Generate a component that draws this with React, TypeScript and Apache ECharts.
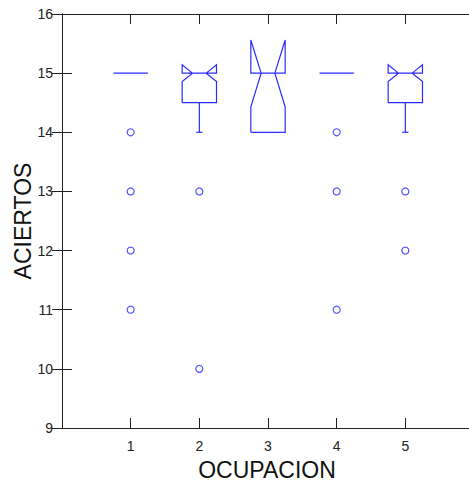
import React, { useEffect, useRef } from "react";
import * as echarts from "echarts";

const categories = [1, 2, 3, 4, 5];
const q1 = [15, 14.5, 14, 15, 14.5];
const medians = [15, 15, 15, 15, 15];
const q3 = [15, 15, 15, 15, 15];
const whiskerLow = [15, 14, 14, 15, 14];
const whiskerHigh = [15, 15, 15, 15, 15];
const notchLow = [15, 14.86, 14.43, 15, 14.86];
const notchHigh = [15, 15.14, 15.56, 15, 15.14];
const outliers: number[][] = [
  [1, 14], [1, 13], [1, 12], [1, 11],
  [2, 13], [2, 10],
  [4, 14], [4, 13], [4, 11],
  [5, 13], [5, 12],
];
const yTicks = [9, 10, 11, 12, 13, 14, 15, 16];
const xTickLabels = ["1", "2", "3", "4", "5"];

const BLUE = "#2b2bff";
const AXIS = "#222222";

export default function App() {
  const ref = useRef<HTMLDivElement>(null);
  useEffect(() => {
    if (!ref.current) return;
    const chart = echarts.init(ref.current, undefined, { renderer: "svg" });
    const boxData = categories.map((c, i) => [
      c, q1[i], medians[i], q3[i], whiskerLow[i], whiskerHigh[i], notchLow[i], notchHigh[i],
    ]);
    const W = 0.25;
    const NW = 0.1;
    const CAP = 0.045;
    const renderItem = (params: any, api: any) => {
      const x = api.value(0);
      const vq1 = api.value(1);
      const vmed = api.value(2);
      const vq3 = api.value(3);
      const wlo = api.value(4);
      const whi = api.value(5);
      const nlo = api.value(6);
      const nhi = api.value(7);
      const p = (a: number, b: number) => api.coord([a, b]);
      const style = { stroke: BLUE, lineWidth: 1.2, fill: "none" };
      const children: any[] = [];
      if (vq1 === vq3 && nlo === nhi) {
        const a = p(x - W, vmed), b = p(x + W, vmed);
        children.push({ type: "line", shape: { x1: a[0], y1: a[1], x2: b[0], y2: b[1] }, style });
      } else {
        const pts = [
          p(x - W, vq1), p(x - W, nlo), p(x - NW, vmed), p(x - W, nhi), p(x - W, vq3),
          p(x + W, vq3), p(x + W, nhi), p(x + NW, vmed), p(x + W, nlo), p(x + W, vq1),
          p(x - W, vq1),
        ];
        children.push({ type: "polyline", shape: { points: pts }, style });
      }
      if (wlo < vq1) {
        const a = p(x, vq1), b = p(x, wlo);
        children.push({ type: "line", shape: { x1: a[0], y1: a[1], x2: b[0], y2: b[1] }, style });
        const c1 = p(x - CAP, wlo), c2 = p(x + CAP, wlo);
        children.push({ type: "line", shape: { x1: c1[0], y1: c1[1], x2: c2[0], y2: c2[1] }, style });
      }
      if (whi > vq3) {
        const a = p(x, vq3), b = p(x, whi);
        children.push({ type: "line", shape: { x1: a[0], y1: a[1], x2: b[0], y2: b[1] }, style });
        const c1 = p(x - CAP, whi), c2 = p(x + CAP, whi);
        children.push({ type: "line", shape: { x1: c1[0], y1: c1[1], x2: c2[0], y2: c2[1] }, style });
      }
      return { type: "group", children };
    };
    const tick = { show: true, inside: true, length: 10, lineStyle: { color: AXIS, width: 1 } };
    const line = { show: true, lineStyle: { color: AXIS, width: 1 } };
    chart.setOption({
      animation: false,
      grid: { left: 62, top: 14, right: -5, bottom: 57, outerBoundsMode: "none", containLabel: false },
      xAxis: [
        {
          type: "value", min: 0, max: 6, interval: 1, position: "bottom",
          axisLine: line, axisTick: tick, splitLine: { show: false },
          axisLabel: {
            color: AXIS, fontSize: 14, margin: 11, fontFamily: "Liberation Sans, Arial, sans-serif",
            formatter: (v: number) => (v >= 1 && v <= 5 ? xTickLabels[v - 1] : ""),
          },
        },
        {
          type: "value", min: 0, max: 6, interval: 1, position: "top",
          axisLine: line, axisTick: tick, splitLine: { show: false }, axisLabel: { show: false },
        },
      ],
      yAxis: [
        {
          type: "value", min: yTicks[0], max: yTicks[yTicks.length - 1], interval: 1, position: "left",
          axisLine: line, axisTick: tick, splitLine: { show: false },
          axisLabel: { color: AXIS, fontSize: 14, margin: 9, fontFamily: "Liberation Sans, Arial, sans-serif" },
        },
        {
          type: "value", min: yTicks[0], max: yTicks[yTicks.length - 1], interval: 1, position: "right",
          axisLine: line, axisTick: tick, splitLine: { show: false }, axisLabel: { show: false },
        },
      ],
      graphic: [
        {
          type: "text", x: 267, y: 470,
          style: {
            text: "OCUPACION", fill: "#111", fontSize: 23, fontFamily: "Liberation Sans, Arial, sans-serif",
            textAlign: "center", textVerticalAlign: "middle",
          },
        },
        {
          type: "text", x: 23, y: 221, rotation: Math.PI / 2,
          style: {
            text: "ACIERTOS", fill: "#111", fontSize: 23, fontFamily: "Liberation Sans, Arial, sans-serif",
            textAlign: "center", textVerticalAlign: "middle",
          },
        },
      ],
      series: [
        {
          type: "custom", renderItem, data: boxData, xAxisIndex: 0, yAxisIndex: 0,
          encode: { x: 0, y: [1, 2, 3, 4, 5, 6, 7] }, silent: true,
        },
        {
          type: "scatter", data: outliers, xAxisIndex: 0, yAxisIndex: 0,
          symbol: "circle", symbolSize: 7,
          itemStyle: { color: "none", borderColor: BLUE, borderWidth: 1.2 }, silent: true,
        },
      ],
    });
    return () => chart.dispose();
  }, []);
  return (
    <div style={{ position: "fixed", left: 0, top: 0, width: 469, height: 485, background: "#fff" }}>
      <div ref={ref} style={{ width: 469, height: 485 }} />
    </div>
  );
}
